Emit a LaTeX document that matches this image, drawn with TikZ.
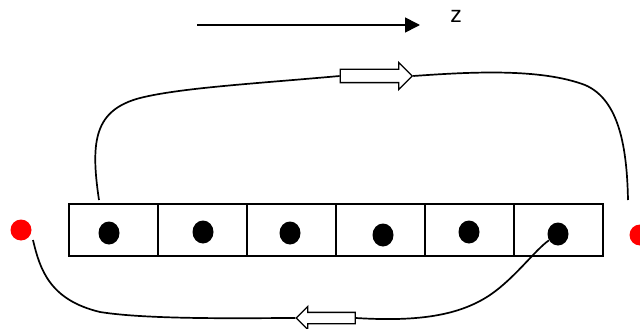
\documentclass[tikz,border=0pt]{standalone}
\usepackage{fontspec}
\setmainfont{Liberation Sans}
\usetikzlibrary{arrows.meta,shapes.arrows,shapes.geometric}
\begin{document}
\begin{tikzpicture}[x=1pt,y=-1pt,
  cell/.style={draw,line width=1.6pt,minimum width=89pt,minimum height=52pt,inner sep=0,anchor=north west},
  bead/.style={fill=black,ellipse,minimum width=21pt,minimum height=23pt,inner sep=0},
  reddot/.style={fill=red,circle,minimum size=21pt,inner sep=0},
  hollow/.style={draw,line width=1.3pt,fill=white,single arrow,inner sep=0,inner ysep=6pt,minimum height=72pt,single arrow head extend=7pt},
  curve/.style={line width=1.7pt}]
\useasboundingbox (0,0) rectangle (640,329);
\node[cell] (c1) at (68,203) {};
\node[cell] (c2) at (157,203) {};
\node[cell] (c3) at (246,203) {};
\node[cell] (c4) at (335,203) {};
\node[cell] (c5) at (424,203) {};
\node[cell] (c6) at (513,203) {};
\node[bead] (b1) at (109,233) {};
\node[bead] (b2) at (203,232) {};
\node[bead] (b3) at (290,233) {};
\node[bead] (b4) at (383,235) {};
\node[bead] (b5) at (469,232) {};
\node[bead] (b6) at (558,234) {};
\node[reddot] (rl) at (21,230) {};
\node[reddot] (rr) at (640,235) {};
\coordinate (za) at (197,25);
\coordinate (zb) at (420,25);
\draw[line width=1.7pt,-{Triangle[length=15pt,width=15pt]}] (za) -- (zb);
\node[font=\fontsize{23}{25}\selectfont,inner sep=0,anchor=base] (z) at (456,23) {z};
\node[hollow] (ta) at (373,76) {};
\node[hollow,shape border rotate=180,minimum height=59pt,inner ysep=5pt,single arrow head extend=6pt] (ba) at (328.5,318) {};
\coordinate (tl) at (99,200);
\coordinate (tr) at (628,200);
\coordinate (bl) at (33,240);
\draw[curve] (tl) .. controls (90,140) and (95,110) .. (140,98) .. controls (180,88) and (250,84) .. (ta.tail);
\draw[curve] (ta.tip) .. controls (470,72) and (540,68) .. (585,85) .. controls (620,100) and (627,150) .. (tr);
\draw[curve] (bl) .. controls (40,270) and (50,300) .. (100,312) .. controls (150,320) and (250,318) .. (ba.tip);
\draw[curve] (ba.tail) .. controls (420,322) and (460,315) .. (490,295) .. controls (515,278) and (535,250) .. (b6);
\end{tikzpicture}
\end{document}
